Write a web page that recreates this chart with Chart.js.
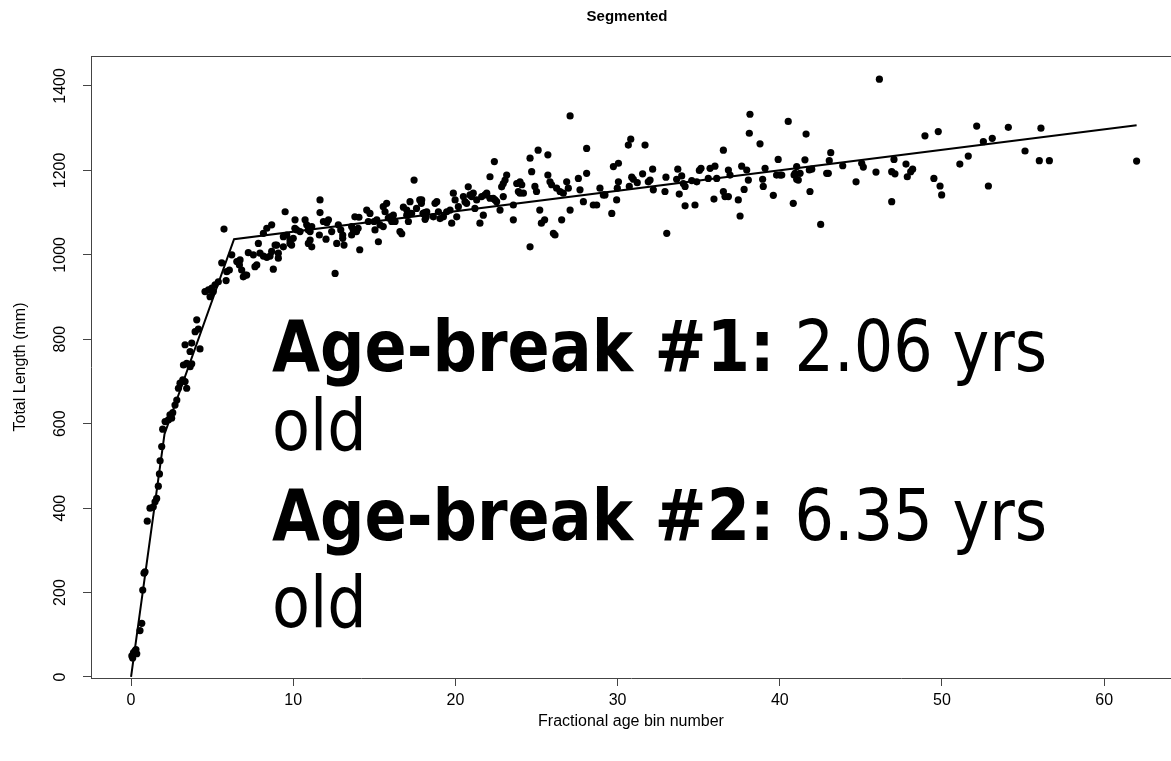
<!DOCTYPE html>
<html>
<head>
<meta charset="utf-8">
<title>Segmented</title>
<script src="https://cdn.jsdelivr.net/npm/chart.js@4.4.0/dist/chart.umd.min.js"></script>
<style>
  html, body { margin: 0; padding: 0; background: #fff; }
</style>
</head>
<body>
<canvas id="myChart" width="1171" height="761"></canvas>
<script>
// ******* DATA **************************************

// fractional age bin number (x) for every fish
let ageBin = [
  0.05, 0.15, 0.25, 0.35, 0.1, 0.3, 0.55, 0.66, 0.72, 0.8,
  0.86, 1.0, 1.17, 1.37, 1.48, 1.58, 1.68, 1.75, 1.79, 1.89,
  1.95, 2.1, 2.3, 2.5, 2.4, 2.57, 2.71, 2.82, 2.92, 3.02,
  3.19, 3.33, 3.43, 3.23, 3.43, 3.64, 3.74, 3.33, 3.74, 3.64,
  4.25, 3.95, 4.15, 4.05, 4.56, 4.77, 4.98, 5.07, 4.87, 5.18,
  5.38, 5.59, 5.86, 5.9, 6.06, 5.73, 6.21, 6.52, 6.68, 6.82,
  6.92, 7.13, 7.23, 7.64, 7.75, 7.85, 7.54, 7.95, 8.16, 8.37,
  8.67, 8.77, 8.98, 9.08, 8.16, 8.37, 8.67, 9.39, 9.6, 9.8,
  10.0, 10.1, 9.9, 9.5, 8.57, 8.88, 9.08, 6.72, 7.03, 9.39,
  9.8, 10.21, 10.42, 10.11, 10.93, 11.14, 10.73, 10.83, 11.65, 11.65,
  11.86, 12.07, 12.17, 11.61, 12.02, 11.04, 11.14, 10.93, 12.58, 12.68,
  13.13, 12.78, 12.93, 13.05, 13.6, 13.7, 13.9, 14.0, 13.8, 14.05,
  14.1, 14.53, 14.73, 14.63, 15.04, 15.15, 15.25, 15.55, 15.66, 15.76,
  15.97, 16.17, 16.07, 16.58, 16.69, 16.79, 17.0, 17.2, 17.3, 17.6,
  17.8, 17.9, 18.0, 18.2, 11.04, 12.37, 13.05, 13.6, 14.98, 15.35,
  15.55, 15.86, 16.28, 17.0, 17.1, 17.45, 17.92, 18.1, 18.13, 18.23,
  18.64, 18.74, 18.85, 18.95, 19.05, 19.26, 19.46, 19.67, 19.77, 19.87,
  19.98, 20.08, 20.18, 20.49, 20.59, 20.69, 20.79, 20.9, 21.0, 21.1,
  21.2, 21.31, 21.51, 21.62, 21.72, 21.82, 21.93, 22.13, 22.13, 22.33,
  22.44, 22.54, 22.75, 22.85, 22.95, 23.06, 23.16, 22.95, 23.57, 23.57,
  22.4, 23.78, 23.88, 23.98, 24.09, 24.19, 23.98, 24.6, 24.7, 24.9,
  25.0, 25.1, 25.2, 25.3, 25.5, 25.7, 25.7, 25.83, 25.93, 26.04,
  26.14, 26.24, 26.45, 26.55, 26.65, 26.86, 26.96, 27.07, 27.58, 27.68,
  27.89, 28.09, 28.09, 28.5, 28.71, 28.91, 29.12, 29.64, 29.74, 29.94,
  30.05, 30.05, 24.6, 27.07, 29.22, 29.98, 30.66, 30.81, 30.72, 30.87,
  30.97, 31.21, 31.54, 31.69, 31.89, 32.0, 32.16, 32.2, 32.92, 32.98,
  33.03, 33.64, 33.71, 33.8, 33.95, 34.05, 34.16, 34.16, 34.57, 34.77,
  34.88, 35.04, 35.14, 35.59, 35.7, 35.94, 36.0, 36.11, 36.52, 36.52,
  36.62, 36.83, 36.83, 36.93, 37.44, 37.55, 37.65, 37.8, 37.96, 38.06,
  38.12, 38.16, 38.78, 38.94, 38.98, 39.09, 39.6, 39.8, 39.9, 40.01,
  40.52, 40.83, 40.94, 41.04, 41.04, 40.12, 40.88, 41.14, 41.25, 41.55,
  41.62, 41.82, 41.97, 41.86, 42.52, 42.89, 42.99, 43.05, 43.14, 43.88,
  44.7, 45.05, 45.15, 45.93, 46.14, 46.9, 46.9, 47.04, 47.1, 47.78,
  47.86, 48.07, 48.19, 48.95, 49.5, 49.77, 49.88, 49.98, 51.1, 51.62,
  52.14, 52.55, 53.1, 52.86, 54.09, 55.12, 56.0, 56.1, 56.62, 62.0
];

// total length (mm), same order as ageBin
let totalLength = [
  50, 58, 62, 55, 45, 65, 110, 127, 206, 246,
  249, 369, 400, 403, 415, 423, 452, 481, 512, 546,
  587, 605, 609, 613, 621, 626, 644, 656, 684, 696,
  704, 700, 684, 739, 743, 735, 742, 787, 791, 771,
  777, 818, 824, 846, 913, 917, 921, 913, 901, 929,
  936, 981, 939, 960, 964, 1061, 1000, 984, 976, 964,
  948, 952, 1005, 972, 976, 1027, 1000, 1004, 997, 994,
  1008, 966, 1023, 1004, 1051, 1063, 1071, 1043, 1047, 1035,
  1039, 1063, 1023, 1102, 997, 1023, 992, 988, 952, 1019,
  1027, 1059, 1055, 1083, 1059, 1067, 1083, 1071, 1130, 1100,
  1079, 1076, 1083, 1047, 1037, 1035, 1019, 1027, 956, 1027,
  1023, 1071, 1059, 1047, 1067, 1059, 1055, 1063, 1090, 1089,
  1012, 1106, 1098, 1079, 1059, 1083, 1031, 1114, 1102, 1122,
  1090, 1094, 1079, 1055, 1050, 1113, 1106, 1126, 1098, 1110,
  1130, 1122, 1098, 1090, 1055, 1055, 1039, 1047, 1079, 1071,
  1067, 1087, 1079, 1094, 1079, 1177, 1130, 1100, 1084, 1102,
  1090, 1122, 1126, 1102, 1086, 1090, 1102, 1106, 1075, 1146,
  1130, 1090, 1114, 1138, 1126, 1122, 1161, 1142, 1138, 1146,
  1110, 1130, 1075, 1138, 1094, 1142, 1146, 1134, 1185, 1134,
  1130, 1126, 1106, 1161, 1169, 1177, 1189, 1138, 1118, 1083,
  1221, 1169, 1150, 1146, 1166, 1146, 1173, 1229, 1197, 1162,
  1150, 1248, 1106, 1075, 1083, 1237, 1189, 1173, 1166, 1051,
  1047, 1158, 1150, 1083, 1146, 1173, 1158, 1106, 1181, 1154,
  1126, 1193, 1252, 1118, 1118, 1158, 1142, 1098, 1209, 1130,
  1217, 1173, 1019, 1329, 1142, 1158, 1260, 1274, 1162, 1184,
  1179, 1171, 1192, 1260, 1173, 1177, 1203, 1154, 1150, 1184,
  1051, 1179, 1203, 1144, 1187, 1169, 1162, 1116, 1176, 1118,
  1173, 1200, 1205, 1181, 1205, 1132, 1210, 1181, 1248, 1150,
  1138, 1138, 1201, 1189, 1130, 1092, 1210, 1155, 1201, 1177,
  1288, 1333, 1263, 1179, 1162, 1205, 1141, 1189, 1226, 1189,
  1316, 1122, 1193, 1179, 1209, 1189, 1189, 1177, 1193, 1225,
  1286, 1201, 1203, 1150, 1072, 1193, 1193, 1223, 1242, 1211,
  1173, 1217, 1208, 1196, 1416, 1197, 1126, 1226, 1192, 1215,
  1185, 1197, 1203, 1282, 1181, 1292, 1163, 1142, 1215, 1234,
  1305, 1268, 1276, 1163, 1302, 1246, 1223, 1300, 1223, 1222
];

// segmented fit: start, break #1, break #2, end
let fitX = [0, 2.06, 6.35, 62.0];
let fitY = [0, 575, 1037, 1307];

// axis ticks
let xTicks = [0, 10, 20, 30, 40, 50, 60];
let yTicks = [0, 200, 400, 600, 800, 1000, 1200, 1400];

// the big annotation
let breakNames = ['Age-break #1:', 'Age-break #2:'];
let breakAges = ['2.06 yrs', '6.35 yrs'];


// ******* BUILD POINTS ******************
let points = [];
for (let i = 0; i < ageBin.length; i++) {
  points.push({ x: ageBin[i], y: totalLength[i] });
}
let fitLine = [];
for (let i = 0; i < fitX.length; i++) {
  fitLine.push({ x: fitX[i], y: fitY[i] });
}

const axisFont = 'Liberation Sans, Arial, sans-serif';

// draws the R style bits chart.js doesnt do: top border, rotated y labels, title, big text
const extras = {
  id: 'extras',
  afterDraw(chart) {
    const ctx = chart.ctx;
    const area = chart.chartArea;
    const yScale = chart.scales.y;

    ctx.save();
    // top border of the box
    ctx.strokeStyle = '#444';
    ctx.lineWidth = 1;
    ctx.beginPath();
    ctx.moveTo(area.left, area.top + 0.5);
    ctx.lineTo(area.right, area.top + 0.5);
    ctx.stroke();

    // y tick labels, turned like R does
    ctx.fillStyle = '#000';
    ctx.font = '16px ' + axisFont;
    ctx.textAlign = 'center';
    ctx.textBaseline = 'middle';
    for (let i = 0; i < yTicks.length; i++) {
      let py = yScale.getPixelForValue(yTicks[i]);
      ctx.save();
      ctx.translate(61, py);
      ctx.rotate(-Math.PI / 2);
      ctx.fillText(String(yTicks[i]), 0, 0);
      ctx.restore();
    }

    // title
    ctx.font = 'bold 15px ' + axisFont;
    ctx.fillText('Segmented', 627, 17);

    // big age break text
    let baselines = [371, 450, 540, 627];
    for (let i = 0; i < breakNames.length; i++) {
      ctx.save();
      ctx.translate(272, baselines[i * 2]);
      ctx.scale(0.875, 1);
      ctx.textAlign = 'left';
      ctx.textBaseline = 'alphabetic';
      ctx.font = 'bold 71px DejaVu Sans';
      ctx.fillText(breakNames[i], 0, 0);
      let w = ctx.measureText(breakNames[i]).width;
      ctx.font = '71px DejaVu Sans';
      ctx.fillText(' ' + breakAges[i], w, 0);
      ctx.restore();

      ctx.save();
      ctx.translate(272, baselines[i * 2 + 1]);
      ctx.scale(0.875, 1);
      ctx.textAlign = 'left';
      ctx.textBaseline = 'alphabetic';
      ctx.font = '71px DejaVu Sans';
      ctx.fillText('old', 0, 0);
      ctx.restore();
    }
    ctx.restore();
  }
};

const config = {
  type: 'scatter',
  data: {
    datasets: [
      {
        type: 'line',
        label: 'Segmented fit',
        data: fitLine,
        borderColor: '#000',
        borderWidth: 2,
        pointRadius: 0,
        fill: false,
        tension: 0
      },
      {
        label: 'Total Length',
        data: points,
        backgroundColor: '#000',
        borderColor: '#000',
        borderWidth: 0,
        pointRadius: 3.6
      }
    ]
  },
  options: {
    responsive: false,
    animation: false,
    layout: { autoPadding: false, padding: { top: 56, left: 0, right: 0, bottom: 0 } },
    plugins: {
      legend: { display: false },
      tooltip: { enabled: false },
      title: { display: false }
    },
    scales: {
      x: {
        type: 'linear',
        min: -2.47,
        max: 64.12,
        afterBuildTicks: function (scale) {
          scale.ticks = xTicks.map(v => ({ value: v }));
        },
        afterFit: function (scale) { scale.height = 83; },
        grid: { drawOnChartArea: false, drawTicks: true, tickLength: 8, tickColor: '#444' },
        border: { display: true, color: '#444', width: 1 },
        ticks: {
          color: '#000',
          font: { family: axisFont, size: 16 },
          padding: 5,
          maxRotation: 0,
          autoSkip: false
        },
        title: {
          display: true,
          text: 'Fractional age bin number',
          color: '#000',
          font: { family: axisFont, size: 16 },
          padding: { top: 0, bottom: 30 }
        }
      },
      y: {
        type: 'linear',
        min: -2.4,
        max: 1471,
        afterBuildTicks: function (scale) {
          scale.ticks = yTicks.map(v => ({ value: v }));
        },
        afterFit: function (scale) { scale.width = 91; },
        grid: { drawOnChartArea: false, drawTicks: true, tickLength: 8, tickColor: '#444' },
        border: { display: true, color: '#444', width: 1 },
        ticks: { color: 'rgba(0,0,0,0)', font: { family: axisFont, size: 16 } },
        title: {
          display: true,
          text: 'Total Length (mm)',
          color: '#000',
          font: { family: axisFont, size: 16 },
          padding: { top: 11, bottom: 0 }
        }
      }
    }
  },
  plugins: [extras]
};

let canvasChart = document.getElementById('myChart');
const myChart = new Chart(canvasChart, config);
</script>
</body>
</html>
